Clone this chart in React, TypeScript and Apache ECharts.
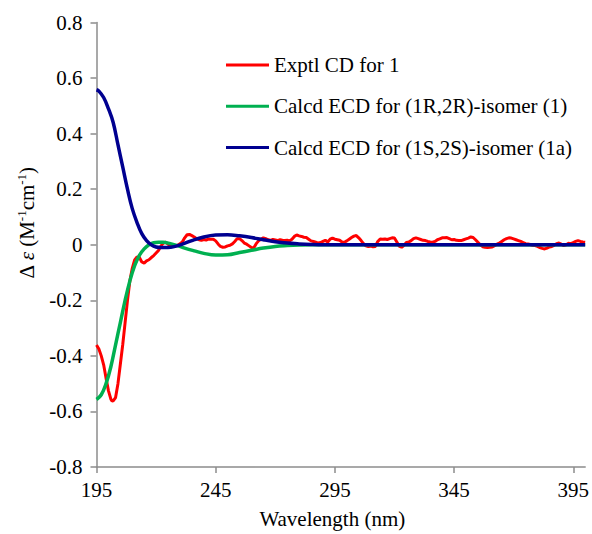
import React, { useEffect, useRef } from "react";
import * as echarts from "echarts";

const legendNames = [
  "Exptl CD for 1",
  "Calcd ECD for (1R,2R)-isomer (1)",
  "Calcd ECD for (1S,2S)-isomer (1a)",
];

const xTickValues = [195, 245, 295, 345, 395];

const exptlCD: [number, number][] = [
  [195, -0.361], [196, -0.375], [197, -0.4], [198, -0.432], [199, -0.48], [200, -0.525],
  [201, -0.555], [201.5, -0.563], [202, -0.562], [203, -0.55], [204, -0.5], [205, -0.43],
  [206, -0.36], [207, -0.28], [208, -0.2], [209, -0.13], [210, -0.085], [211, -0.055],
  [212, -0.044], [213, -0.046], [214, -0.062], [215, -0.066], [216, -0.058], [217, -0.054],
  [218, -0.046], [219, -0.039], [220, -0.03], [221, -0.021], [222, -0.005], [223, 0.006],
  [224, 0.009], [225, 0.002], [226, -0.003], [227, -0.002], [228, -0.005], [229, -0.002],
  [230, 0.003], [231, 0.01], [232, 0.025], [233, 0.036], [234, 0.037], [235, 0.033],
  [236, 0.028], [237, 0.022], [238, 0.018], [239, 0.016], [240, 0.019], [241, 0.017],
  [242, 0.021], [243, 0.02], [244, 0.02], [245, 0.014], [246, 0.003], [247, -0.006],
  [248, -0.009], [249, -0.008], [250, -0.004], [251, -0.002], [252, 0.003], [253, 0.012],
  [254, 0.022], [255, 0.022], [256, 0.015], [257, 0.006], [258, 0.002], [259, -0.004],
  [260, -0.01], [261, -0.011], [262, 0.004], [263, 0.014], [264, 0.02], [265, 0.025],
  [266, 0.022], [267, 0.018], [268, 0.016], [269, 0.019], [270, 0.017], [271, 0.015],
  [272, 0.018], [273, 0.016], [274, 0.015], [275, 0.016], [276, 0.014], [277, 0.02],
  [278, 0.03], [279, 0.035], [280, 0.032], [281, 0.03], [282, 0.027], [283, 0.026],
  [284, 0.02], [285, 0.014], [286, 0.012], [287, 0.009], [288, 0.006], [289, 0.008],
  [290, 0.012], [291, 0.016], [292, 0.01], [293, 0.02], [294, 0.024], [295, 0.02],
  [296, 0.018], [297, 0.016], [298, 0.01], [299, 0.009], [300, 0.014], [301, 0.02],
  [302, 0.026], [303, 0.031], [304, 0.033], [305, 0.025], [306, 0.015], [307, 0.004],
  [308, -0.004], [309, -0.006], [310, -0.005], [311, -0.007], [312, -0.006], [313, 0.012],
  [314, 0.021], [315, 0.02], [316, 0.021], [317, 0.019], [318, 0.022], [319, 0.025],
  [320, 0.024], [321, 0.01], [322, -0.005], [323, -0.009], [324, -0.002], [325, 0.008],
  [326, 0.01], [327, 0.015], [328, 0.022], [329, 0.025], [330, 0.022], [331, 0.019],
  [332, 0.016], [333, 0.015], [334, 0.012], [335, 0.01], [336, 0.009], [337, 0.012],
  [338, 0.018], [339, 0.021], [340, 0.025], [341, 0.025], [342, 0.026], [343, 0.022],
  [344, 0.018], [345, 0.019], [346, 0.016], [347, 0.015], [348, 0.015], [349, 0.018],
  [350, 0.021], [351, 0.024], [352, 0.028], [353, 0.026], [354, 0.018], [355, 0.009],
  [356, 0.0], [357, -0.007], [358, -0.009], [359, -0.01], [360, -0.009], [361, -0.008],
  [362, -0.003], [363, 0.002], [364, 0.006], [365, 0.012], [366, 0.018], [367, 0.022],
  [368, 0.025], [369, 0.024], [370, 0.021], [371, 0.018], [372, 0.015], [373, 0.012],
  [374, 0.008], [375, 0.004], [376, 0.003], [377, 0.001], [378, -0.002], [379, -0.003],
  [380, -0.006], [381, -0.01], [382, -0.013], [383, -0.015], [384, -0.012], [385, -0.008],
  [386, -0.006], [387, -0.002], [388, 0.004], [389, 0.006], [390, 0.002], [391, -0.003],
  [392, 0.0], [393, 0.005], [394, 0.004], [395, 0.008], [396, 0.012], [397, 0.015],
  [398, 0.012], [399, 0.01], [400, 0.009],
];

const calcd1R2R: [number, number][] = [
  [195, -0.557], [197, -0.54], [199, -0.5], [201, -0.44], [203, -0.36], [205, -0.28],
  [207, -0.2], [209, -0.13], [211, -0.075], [213, -0.038], [215, -0.015], [217, 0.0],
  [219, 0.007], [221, 0.009], [223, 0.009], [226, 0.004], [229, -0.003], [232, -0.012],
  [236, -0.022], [240, -0.031], [245, -0.037], [250, -0.036], [255, -0.028], [260, -0.02],
  [265, -0.012], [270, -0.006], [275, -0.003], [280, -0.001], [285, 0], [300, 0],
  [350, 0], [400, 0],
];

const calcd1S2S: [number, number][] = [
  [195, 0.558], [196, 0.553], [198, 0.53], [200, 0.49], [202, 0.44], [204, 0.36],
  [206, 0.28], [208, 0.2], [210, 0.13], [212, 0.08], [214, 0.04], [216, 0.015],
  [218, 0.0], [220, -0.008], [222, -0.01], [225, -0.01], [228, -0.006], [231, 0.002],
  [235, 0.015], [240, 0.028], [245, 0.035], [250, 0.036], [255, 0.032], [260, 0.026],
  [265, 0.018], [270, 0.011], [275, 0.006], [280, 0.003], [285, 0.001], [290, 0],
  [350, 0], [400, 0],
];

const FONT = "Liberation Serif";
const AXIS_COLOR = "#8c8c8c";

export default function App() {
  const ref = useRef<HTMLDivElement>(null);

  useEffect(() => {
    document.body.style.margin = "0";
    if (!ref.current) return;
    const chart = echarts.init(ref.current, undefined, { renderer: "svg" });
    chart.setOption({
      animation: false,
      backgroundColor: "#ffffff",
      grid: { left: 96.5, right: 5, top: 22.5, bottom: 64 },
      legend: {
        orient: "vertical",
        left: 226,
        top: 54,
        padding: 0,
        icon: "rect",
        itemWidth: 43,
        itemHeight: 3,
        itemGap: 19.3,
        data: legendNames,
        textStyle: { fontFamily: FONT, fontSize: 21, color: "#000", lineHeight: 22 },
      },
      xAxis: {
        type: "value",
        min: 195,
        max: 400,
        name: "Wavelength (nm)",
        nameLocation: "middle",
        nameGap: 41,
        nameTextStyle: { fontFamily: FONT, fontSize: 21, color: "#000", padding: [0, 17, 0, 0] },
        axisLine: { show: true, onZero: false, lineStyle: { color: AXIS_COLOR, width: 1.5 } },
        axisTick: { show: true, length: 6, customValues: xTickValues, lineStyle: { color: AXIS_COLOR, width: 1.5 } },
        axisLabel: { customValues: xTickValues, margin: 12, fontFamily: FONT, fontSize: 21, color: "#000" },
        splitLine: { show: false },
      },
      yAxis: {
        type: "value",
        min: -0.8,
        max: 0.8,
        interval: 0.2,
        axisLine: { show: true, onZero: false, lineStyle: { color: AXIS_COLOR, width: 1.5 } },
        axisTick: { show: true, length: 6, lineStyle: { color: AXIS_COLOR, width: 1.5 } },
        axisLabel: { margin: 14, fontFamily: FONT, fontSize: 21, color: "#000" },
        splitLine: { show: false },
      },
      graphic: [
        {
          type: "text",
          x: 27,
          y: 223,
          rotation: Math.PI / 2,
          style: {
            text: "{n|Δ }{e|ε}{n| (M}{s|-1}{n|cm}{s|-1}{n|)}",
            fontFamily: FONT,
            fontSize: 21,
            align: "center",
            verticalAlign: "middle",
            fill: "#000",
            rich: {
              n: { fontFamily: FONT, fontSize: 21, lineHeight: 24 },
              e: { fontFamily: FONT, fontSize: 21, lineHeight: 24, fontStyle: "italic" },
              s: { fontFamily: FONT, fontSize: 13, lineHeight: 24, verticalAlign: "top" },
            },
          },
        },
      ],
      series: [
        {
          name: legendNames[0],
          type: "line",
          data: exptlCD,
          showSymbol: false,
          symbol: "none",
          lineStyle: { color: "#ff0000", width: 3 },
          itemStyle: { color: "#ff0000" },
        },
        {
          name: legendNames[1],
          type: "line",
          data: calcd1R2R,
          showSymbol: false,
          symbol: "none",
          smooth: 0.4,
          lineStyle: { color: "#00b050", width: 3.5 },
          itemStyle: { color: "#00b050" },
        },
        {
          name: legendNames[2],
          type: "line",
          data: calcd1S2S,
          showSymbol: false,
          symbol: "none",
          smooth: 0.4,
          lineStyle: { color: "#000090", width: 3.5 },
          itemStyle: { color: "#000090" },
        },
      ],
    });
    return () => chart.dispose();
  }, []);

  return <div ref={ref} style={{ width: 592, height: 534 }} />;
}
